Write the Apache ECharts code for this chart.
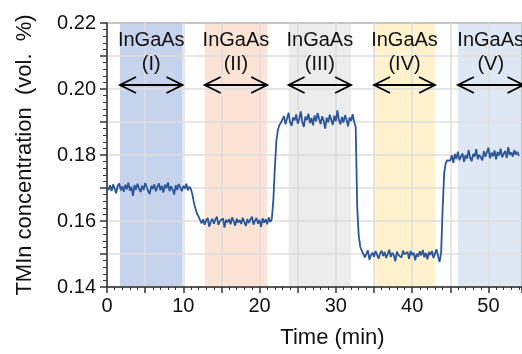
<!DOCTYPE html>
<html>
<head>
<meta charset="utf-8">
<script src="https://cdn.jsdelivr.net/npm/echarts@6/dist/echarts.min.js"></script>
<style>
  html, body { margin: 0; padding: 0; background: #fff; }
  #chart { width: 522px; height: 354px; }
</style>
</head>
<body>
<div id="chart"></div>
<script>
// sampling of the TMIn trace (min)
const T_START = 0;
const T_STEP = 0.2;

// TMIn concentration (vol. %), one value per sample
const tmin = [
  0.1703,0.1694,0.1708,0.1691,0.1711,0.1698,0.1684,0.1706,0.1714,0.1693,
  0.1705,0.1689,0.1710,0.1696,0.1716,0.1692,0.1704,0.1676,0.1709,0.1695,
  0.1713,0.1699,0.1688,0.1707,0.1694,0.1715,0.1703,0.1690,0.1682,0.1706,
  0.1697,0.1711,0.1690,0.1702,0.1714,0.1693,0.1707,0.1686,0.1710,0.1699,
  0.1717,0.1691,0.1705,0.1696,0.1680,0.1708,0.1694,0.1712,0.1702,0.1690,
  0.1706,0.1698,0.1713,0.1693,0.1704,0.1697,
  0.1680,0.1655,0.1637,0.1622,0.1613,
  0.1610,0.1593,0.1605,0.1589,0.1602,0.1609,0.1583,0.1598,0.1607,0.1592,
  0.1604,0.1613,0.1588,0.1600,0.1594,0.1608,0.1580,0.1603,0.1596,0.1606,
  0.1590,0.1611,0.1600,0.1586,0.1607,0.1595,0.1603,0.1591,0.1610,0.1597,
  0.1585,0.1606,0.1594,0.1604,0.1613,0.1589,0.1601,0.1609,0.1592,0.1603,
  0.1582,0.1608,0.1595,0.1605,0.1590,0.1611,0.1597,0.1606,
  0.1660,0.1760,0.1842,0.1876,0.1891,0.1898,
  0.1902,0.1918,0.1893,0.1911,0.1928,0.1899,0.1888,0.1914,0.1905,0.1923,
  0.1895,0.1909,0.1932,0.1900,0.1885,0.1916,0.1906,0.1925,0.1897,0.1912,
  0.1890,0.1920,0.1902,0.1927,0.1910,0.1894,0.1917,0.1904,0.1880,0.1913,
  0.1899,0.1922,0.1907,0.1891,0.1919,0.1902,0.1935,0.1906,0.1893,0.1915,
  0.1898,0.1921,0.1907,0.1887,0.1914,0.1903,0.1924,0.1900,
  0.1885,0.1640,0.1555,0.1522,0.1510,
  0.1505,0.1490,0.1500,0.1511,0.1483,0.1496,0.1504,0.1492,0.1509,0.1498,
  0.1486,0.1502,0.1510,0.1494,0.1506,0.1488,0.1500,0.1513,0.1491,0.1504,
  0.1496,0.1478,0.1507,0.1497,0.1503,0.1489,0.1510,0.1499,0.1493,0.1506,
  0.1485,0.1509,0.1497,0.1504,0.1481,0.1501,0.1492,0.1508,0.1496,0.1512,
  0.1490,0.1503,0.1484,0.1506,0.1497,0.1509,0.1488,0.1501,0.1514,0.1493,
  0.1476,0.1504,
  0.1640,0.1745,0.1775,0.1784,0.1789,
  0.1783,0.1799,0.1776,0.1803,0.1788,0.1810,0.1784,0.1796,0.1805,0.1779,
  0.1800,0.1789,0.1815,0.1792,0.1781,0.1803,0.1795,0.1818,0.1787,0.1801,
  0.1806,0.1784,0.1812,0.1795,0.1801,0.1822,0.1790,0.1807,0.1796,0.1814,
  0.1787,0.1809,0.1798,0.1819,0.1793,0.1804,0.1812,0.1791,0.1824,0.1800,
  0.1808,0.1795,0.1815,0.1801,0.1810,0.1797
];

// growth windows (min)
const layerName = 'InGaAs';
const layerLabels = ['(I)', '(II)', '(III)', '(IV)', '(V)'];
const layerStart = [1.7, 12.8, 23.8, 35.0, 46.0];
const layerEnd = [9.9, 21.0, 32.0, 43.0, 54.6];

const LAYER_COLORS = ['#c5d3ed', '#fbe3d6', '#ececec', '#fff2cd', '#dde8f4'];
const FONT = '"Liberation Sans", Arial, sans-serif';

const chart = echarts.init(document.getElementById('chart'));

const lineData = tmin.map((v, i) => [+(T_START + i * T_STEP).toFixed(2), v]);
const layerData = layerStart.map((s, i) => [s, layerEnd[i], i]);

const option = {
  backgroundColor: '#ffffff',
  animation: false,
  grid: {
    left: 107,
    right: -3,
    top: 23,
    bottom: 63,
    show: true,
    borderColor: '#555',
    borderWidth: 1.5,
  },
  xAxis: {
    type: 'value',
    min: 0,
    max: 54.4,
    interval: 5,
    name: 'Time (min)',
    nameLocation: 'middle',
    nameGap: 40,
    nameTextStyle: { fontFamily: FONT, fontSize: 22, color: '#111', padding: [0, 0, 0, 36] },
    axisLine: { lineStyle: { color: '#333', width: 1.5 } },
    axisTick: { length: 6, lineStyle: { color: '#333', width: 1.5 } },
    minorTick: { show: true, splitNumber: 5, length: 3, lineStyle: { color: '#333', width: 1 } },
    axisLabel: {
      fontFamily: FONT,
      fontSize: 20,
      color: '#111',
      margin: 9,
      showMaxLabel: false,
      formatter: (v) => (Math.round(v) % 10 === 0 ? String(Math.round(v)) : ''),
    },
    splitLine: { show: true, lineStyle: { color: '#dedede', width: 1.5 } },
  },
  yAxis: {
    type: 'value',
    min: 0.14,
    max: 0.22,
    interval: 0.01,
    name: 'TMIn concentration  (vol.  %)',
    nameLocation: 'middle',
    nameGap: 71,
    nameTextStyle: { fontFamily: FONT, fontSize: 22, color: '#111' },
    axisLine: { show: true, lineStyle: { color: '#333', width: 1.5 } },
    axisTick: { show: true, length: 7, lineStyle: { color: '#333', width: 1.5 } },
    minorTick: { show: true, splitNumber: 5, length: 4, lineStyle: { color: '#333', width: 1 } },
    axisLabel: {
      fontFamily: FONT,
      fontSize: 20,
      color: '#111',
      margin: 11,
      formatter: (v) => (Math.round(v * 100) % 2 === 0 ? v.toFixed(2) : ''),
    },
    splitLine: { show: true, lineStyle: { color: '#dedede', width: 1.5 } },
  },
  series: [
    {
      // shaded growth windows, kept under the grid lines
      type: 'custom',
      z: -1,
      silent: true,
      clip: false,
      data: layerData,
      renderItem: (params, api) => {
        const p0 = api.coord([api.value(0), 0.22]);
        const p1 = api.coord([api.value(1), 0.14]);
        return {
          type: 'rect',
          shape: { x: p0[0], y: p0[1], width: p1[0] - p0[0], height: p1[1] - p0[1] },
          style: { fill: LAYER_COLORS[api.value(2)] },
        };
      },
    },
    {
      type: 'line',
      data: lineData,
      showSymbol: false,
      z: 3,
      lineStyle: { color: '#2c5698', width: 1.8 },
    },
    {
      // labels and double arrows
      type: 'custom',
      z: 4,
      silent: true,
      clip: false,
      data: layerData,
      renderItem: (params, api) => {
        const a = api.coord([api.value(0), 0.22]);
        const b = api.coord([api.value(1), 0.22]);
        const cx = (a[0] + b[0]) / 2;
        const top = a[1];
        const y = top + 62;
        const head = 16, half = 8;
        const stroke = { stroke: '#000', lineWidth: 1.8, fill: null };
        return {
          type: 'group',
          children: [
            { type: 'text', x: cx, y: top + 17,
              style: { text: layerName, font: '20px ' + FONT, fill: '#111', align: 'center', verticalAlign: 'middle' } },
            { type: 'text', x: cx, y: top + 41,
              style: { text: layerLabels[api.value(2)], font: '20px ' + FONT, fill: '#111', align: 'center', verticalAlign: 'middle' } },
            { type: 'line', shape: { x1: a[0], y1: y, x2: b[0], y2: y }, style: stroke },
            { type: 'polyline', shape: { points: [[a[0] + head, y - half], [a[0], y], [a[0] + head, y + half]] }, style: stroke },
            { type: 'polyline', shape: { points: [[b[0] - head, y - half], [b[0], y], [b[0] - head, y + half]] }, style: stroke },
          ],
        };
      },
    },
  ],
};

chart.setOption(option);
</script>
</body>
</html>
